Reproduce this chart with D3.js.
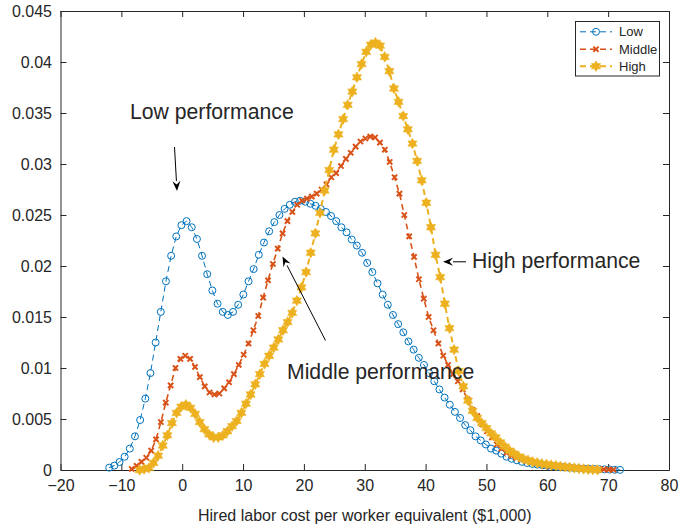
<!DOCTYPE html>
<html>
<head>
<meta charset="utf-8">
<script src="https://cdn.jsdelivr.net/npm/d3@7"></script>
<style>
  html, body { margin: 0; padding: 0; background: #fff; }
  svg { display: block; font-family: "Liberation Sans", Arial, Helvetica, sans-serif; }
</style>
</head>
<body>
<svg id="chart" width="681" height="528"></svg>
<script>
// ---------------- DATA ----------------
const lowX = [-12.00,-11.15,-10.30,-9.46,-8.61,-7.76,-6.91,-6.06,-5.22,-4.37,
  -3.52,-2.67,-1.82,-0.98,-0.13,0.72,1.57,2.42,3.26,4.11,
  4.96,5.81,6.66,7.50,8.35,9.20,10.05,10.90,11.74,12.59,
  13.44,14.29,15.14,15.98,16.83,17.68,18.53,19.38,20.22,21.07,
  21.92,22.77,23.62,24.46,25.31,26.16,27.01,27.86,28.70,29.55,
  30.40,31.25,32.10,32.94,33.79,34.64,35.49,36.34,37.18,38.03,
  38.88,39.73,40.58,41.42,42.27,43.12,43.97,44.82,45.66,46.51,
  47.36,48.21,49.06,49.90,50.75,51.60,52.45,53.30,54.14,54.99,
  55.84,56.69,57.54,58.38,59.23,60.08,60.93,61.78,62.62,63.47,
  64.32,65.17,66.02,66.86,67.71,68.56,69.41,70.26,71.10,71.95];
const lowY = [0.00023,0.00043,0.00078,0.0013,0.0021,0.0033,0.0049,0.0070,0.0095,0.0125,
  0.0155,0.0185,0.0210,0.0229,0.0240,0.0244,0.0238,0.02265,0.0210,0.0192,
  0.0176,0.0163,0.0155,0.0152,0.0155,0.0162,0.0172,0.0185,0.0197,0.0211,
  0.0223,0.0234,0.0243,0.0250,0.0256,0.0260,0.0263,0.0264,0.0263,0.0261,
  0.0259,0.0256,0.0253,0.0249,0.0244,0.0238,0.0233,0.0226,0.0220,0.0213,
  0.0203,0.0194,0.0183,0.0172,0.0162,0.0152,0.0143,0.0135,0.0126,0.0118,
  0.0110,0.0103,0.0095,0.0087,0.0079,0.0071,0.0064,0.0057,0.0051,0.0044,
  0.0039,0.0033,0.0029,0.0025,0.0021,0.0019,0.0016,0.0013,0.0011,0.00095,
  0.0008,0.00068,0.00059,0.00052,0.00046,0.00042,0.00036,0.00032,0.00028,0.00024,
  0.0002,0.00017,0.00014,0.00012,0.0001,0.00008,0.00006,0.00004,0.00002,0.00001];

const midX = [-8.3,-7.5,-6.7,-5.9,-5.1,-4.3,-3.5,-2.7,-1.9,-1.1,
  -0.3,0.5,1.3,2.1,2.9,3.7,4.5,5.3,6.1,6.9,
  7.7,8.5,9.3,10.1,10.9,11.7,12.5,13.3,14.1,14.9,
  15.7,16.5,17.3,18.1,18.9,19.7,20.5,21.3,22.1,22.9,
  23.7,24.5,25.3,26.1,26.9,27.7,28.5,29.3,30.1,30.9,
  31.7,32.5,33.3,34.1,34.9,35.7,36.5,37.3,38.1,38.9,
  39.7,40.5,41.3,42.1,42.9,43.7,44.5,45.3,46.1,46.9,
  47.7,48.5,49.3,50.1,50.9,51.7,52.5,53.3,54.1,54.9,
  55.7,56.5,57.3,58.1,58.9,59.7,60.5,61.3,62.1,62.9,
  63.7,64.5,65.3,66.1,66.9,67.7,68.5,69.3,70.1,70.9];
const midY = [0.0001,0.0004,0.0008,0.0012,0.0019,0.0030,0.0047,0.0066,0.0083,0.0100,
  0.0109,0.0112,0.0109,0.0101,0.0091,0.0082,0.0076,0.0074,0.0075,0.0080,
  0.0086,0.0094,0.0103,0.0113,0.0124,0.0137,0.0151,0.0169,0.0186,0.0202,
  0.0217,0.0232,0.0244,0.0253,0.0260,0.0264,0.0266,0.0268,0.0271,0.0275,
  0.0280,0.0287,0.0291,0.0298,0.0305,0.0311,0.0317,0.0322,0.0325,0.03268,
  0.0326,0.0321,0.0314,0.0302,0.0287,0.0271,0.0250,0.0229,0.0209,0.0187,
  0.0168,0.0150,0.0137,0.0124,0.0112,0.0103,0.0094,0.0087,0.0079,0.0069,
  0.0059,0.0053,0.0045,0.0038,0.0032,0.0025,0.0021,0.0017,0.0014,0.0012,
  0.00105,0.0009,0.0008,0.0007,0.0006,0.00052,0.00045,0.0004,0.00035,0.0003,
  0.00025,0.0002,0.00017,0.00014,0.00012,0.0001,0.00008,0.00006,0.00004,0.00002];

const highX = [-7.00,-6.24,-5.48,-4.72,-3.96,-3.20,-2.44,-1.68,-0.92,-0.16,
  0.60,1.36,2.12,2.88,3.64,4.40,5.16,5.92,6.68,7.44,
  8.20,8.96,9.72,10.48,11.24,12.00,12.76,13.52,14.28,15.04,
  15.80,16.56,17.32,18.08,18.84,19.60,20.36,21.12,21.88,22.64,
  23.40,24.16,24.92,25.68,26.44,27.20,27.96,28.72,29.48,30.24,
  31.00,31.76,32.52,33.28,34.04,34.80,35.56,36.32,37.08,37.84,
  38.60,39.36,40.12,40.88,41.64,42.40,43.16,43.92,44.68,45.44,
  46.20,46.96,47.72,48.48,49.24,50.00,50.76,51.52,52.28,53.04,
  53.80,54.56,55.32,56.08,56.84,57.60,58.36,59.12,59.88,60.64,
  61.40,62.16,62.92,63.68,64.44,65.20,65.96,66.72,67.48,68.24];
const highY = [0.0,0.0001,0.0002,0.0007,0.0014,0.0024,0.0034,0.0046,0.0056,0.0062,
  0.0064,0.0061,0.0055,0.0047,0.0040,0.0035,0.0032,0.0032,0.0034,0.0038,
  0.0043,0.0048,0.0056,0.0065,0.0074,0.0084,0.0094,0.0104,0.0112,0.0120,
  0.0128,0.0137,0.0145,0.0154,0.0166,0.0179,0.0194,0.0213,0.0232,0.0252,
  0.0274,0.0294,0.0314,0.0329,0.0344,0.0358,0.0371,0.0385,0.0398,0.0410,
  0.0417,0.0419,0.0416,0.0405,0.0391,0.0374,0.0361,0.0347,0.0334,0.0320,
  0.0303,0.0284,0.0262,0.0238,0.0211,0.0189,0.0163,0.0139,0.0118,0.0097,
  0.0082,0.0068,0.0058,0.0051,0.0046,0.0041,0.0036,0.0032,0.0027,0.0023,
  0.0019,0.0016,0.0013,0.0011,0.00095,0.0008,0.0007,0.0006,0.00055,0.00048,
  0.00043,0.00036,0.0003,0.00025,0.0002,0.00015,0.0001,0.00006,0.00003,0.00001];

const seriesNames = ["Low", "Middle", "High"];
const xTicks = [-20,-10,0,10,20,30,40,50,60,70,80];
const yTicks = [0,0.005,0.01,0.015,0.02,0.025,0.03,0.035,0.04,0.045];
const yTickLabels = ["0","0.005","0.01","0.015","0.02","0.025","0.03","0.035","0.04","0.045"];
const xLabel = "Hired labor cost per worker equivalent ($1,000)";
const annotations = [
  {text: "Low performance", tx: 130, ty: 119, from: [174.5, 147], to: [177, 191]},
  {text: "Middle performance", tx: 287, ty: 379, from: [325.5, 340.5], to: [282.5, 256.5]},
  {text: "High performance", tx: 472, ty: 268, from: [466, 261.8], to: [443, 261.8]}
];

// ---------------- LAYOUT ----------------
const svg = d3.select("#chart");
const L = 60.5, R = 669, T = 11, B = 470;
const x = d3.scaleLinear().domain([-20, 80]).range([L, R]);
const y = d3.scaleLinear().domain([0, 0.045]).range([B, T]);
const ink = "#262626";
const colors = ["#0072BD", "#D95319", "#EDB120"];

// axes
const fmtX = d => (d < 0 ? "\u2212" + Math.abs(d) : String(d));
const gx = svg.append("g").attr("transform", `translate(0,${B})`)
  .call(d3.axisBottom(x).tickValues(xTicks).tickFormat(fmtX).tickSizeInner(-6).tickSizeOuter(0).tickPadding(9.5));
const gy = svg.append("g").attr("transform", `translate(${L},0)`)
  .call(d3.axisLeft(y).tickValues(yTicks).tickFormat((d, i) => yTickLabels[i]).tickSizeInner(-6).tickSizeOuter(0).tickPadding(8.5));
const gt = svg.append("g").attr("transform", `translate(0,${T})`)
  .call(d3.axisTop(x).tickValues(xTicks).tickFormat("").tickSizeInner(-6).tickSizeOuter(0));
const gr = svg.append("g").attr("transform", `translate(${R},0)`)
  .call(d3.axisRight(y).tickValues(yTicks).tickFormat("").tickSizeInner(-6).tickSizeOuter(0));
[gx, gy, gt, gr].forEach(g => {
  g.selectAll("path.domain").attr("stroke", ink).attr("stroke-width", 1);
  g.selectAll(".tick line").attr("stroke", ink).attr("stroke-width", 1);
  g.selectAll(".tick text").attr("fill", ink).attr("font-size", 16)
    .attr("font-family", '"Liberation Sans", Arial, sans-serif');
});

svg.append("text").attr("x", (L + R) / 2).attr("y", 521)
  .attr("text-anchor", "middle").attr("font-size", 16).attr("fill", ink)
  .text(xLabel);

// markers
function hexagram(r) {
  const ri = r / Math.sqrt(3);
  const pts = [];
  for (let k = 0; k < 12; k++) {
    const a = -Math.PI / 2 + k * Math.PI / 6;
    const rr = k % 2 === 0 ? r : ri;
    pts.push([rr * Math.cos(a), rr * Math.sin(a)]);
  }
  return "M" + pts.map(p => p[0].toFixed(2) + "," + p[1].toFixed(2)).join("L") + "Z";
}
function drawMarker(g, kind, cx, cy) {
  if (kind === 0) {
    g.append("circle").attr("cx", cx).attr("cy", cy).attr("r", 3.5)
      .attr("fill", "none").attr("stroke", colors[0]).attr("stroke-width", 1);
  } else if (kind === 1) {
    const s = 2.6;
    g.append("path").attr("d", `M${cx - s},${cy - s}L${cx + s},${cy + s}M${cx - s},${cy + s}L${cx + s},${cy - s}`)
      .attr("stroke", colors[1]).attr("stroke-width", 2).attr("fill", "none");
  } else {
    g.append("path").attr("d", hexagram(5.3)).attr("transform", `translate(${cx},${cy})`)
      .attr("fill", colors[2]).attr("stroke", colors[2]).attr("stroke-width", 0.6);
  }
}

const seriesData = [
  lowX.map((v, i) => [v, lowY[i]]),
  midX.map((v, i) => [v, midY[i]]),
  highX.map((v, i) => [v, highY[i]])
];
const lineW = [1, 1.6, 2];
const line = d3.line().x(d => x(d[0])).y(d => y(d[1]));

const plot = svg.append("g");
seriesData.forEach((data, si) => {
  const g = plot.append("g");
  g.append("path").datum(data).attr("d", line)
    .attr("fill", "none").attr("stroke", colors[si]).attr("stroke-width", lineW[si])
    .attr("stroke-dasharray", "6,4");
  data.forEach(d => drawMarker(g, si, x(d[0]), y(d[1])));
});

// annotations
annotations.forEach(a => {
  svg.append("text").attr("x", a.tx).attr("y", a.ty).attr("font-size", 21.2)
    .attr("fill", ink).text(a.text);
  const [x1, y1] = a.from, [x2, y2] = a.to;
  const ang = Math.atan2(y2 - y1, x2 - x1);
  const hl = 10, hw = 4;
  const bx = x2 - hl * Math.cos(ang), by = y2 - hl * Math.sin(ang);
  svg.append("line").attr("x1", x1).attr("y1", y1).attr("x2", bx).attr("y2", by)
    .attr("stroke", "#000").attr("stroke-width", 1);
  const px = -Math.sin(ang), py = Math.cos(ang);
  svg.append("path")
    .attr("d", `M${x2},${y2}L${bx + hw * px},${by + hw * py}L${bx + 0.35 * hl * Math.cos(ang)},${by + 0.35 * hl * Math.sin(ang)}L${bx - hw * px},${by - hw * py}Z`)
    .attr("fill", "#000");
});

// legend
const lg = svg.append("g");
lg.append("rect").attr("x", 575.5).attr("y", 21.5).attr("width", 84).attr("height", 54.5)
  .attr("fill", "#fff").attr("stroke", ink).attr("stroke-width", 1);
const rowY = [31.8, 49.2, 66.2];
seriesNames.forEach((name, i) => {
  lg.append("line").attr("x1", 580).attr("x2", 612).attr("y1", rowY[i]).attr("y2", rowY[i])
    .attr("stroke", colors[i]).attr("stroke-width", lineW[i]).attr("stroke-dasharray", "6,4");
  drawMarker(lg, i, 596, rowY[i]);
  lg.append("text").attr("x", 619).attr("y", rowY[i]).attr("dy", "0.35em")
    .attr("font-size", 13).attr("fill", ink).text(name);
});
</script>
</body>
</html>
